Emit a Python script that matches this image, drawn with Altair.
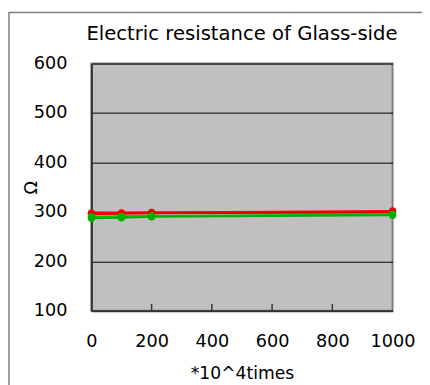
import altair as alt
import pandas as pd

# ---- data ----
cycles = [0, 100, 200, 1000]
red_1 = [298, 298, 299, 302]
red_2 = [295, 296, 297, 299]
green_1 = [290, 291, 292, 295]
green_2 = [287, 288, 290, 293]
series_names = ["R1", "R2", "G1", "G2"]
series_colors = ["#FF0000", "#E00000", "#00C000", "#00B000"]

x_ticks = [0, 200, 400, 600, 800, 1000]
inner_ticks = [200, 400, 600, 800]
y_ticks = [100, 200, 300, 400, 500, 600]
chart_title = "Electric resistance of Glass-side"

rows = []
for name, vals in zip(series_names, [red_1, red_2, green_1, green_2]):
    for c, v in zip(cycles, vals):
        rows.append({"cycles": c, "ohm": v, "series": name})
df = pd.DataFrame(rows)
tick_df = pd.DataFrame({"cycles": inner_ticks})

W, H = 307, 252
FONT = "DejaVu Sans"

x_axis = alt.Axis(
    values=x_ticks, title="*10^4times", grid=False, ticks=False, format="d",
    labelPadding=22, labelFontSize=18, labelFont=FONT, labelColor="#000",
    titleFontSize=17.5, titleFont=FONT, titleFontWeight="normal", titleColor="#000",
    titlePadding=15, domainColor="#333333", domainWidth=2, labelFlush=False,
)
x_scale = alt.Scale(domain=[0, 1000], nice=False)
y_enc = alt.Y(
    "ohm:Q",
    scale=alt.Scale(domain=[100, 600], nice=False),
    axis=alt.Axis(
        values=y_ticks, title="Ω", grid=True, gridColor="#000000", gridWidth=1,
        ticks=False, labelPadding=25, labelFontSize=18, labelFont=FONT, labelColor="#000",
        titleFontSize=18, titleFont=FONT, titleFontWeight="normal", titleColor="#000",
        titleX=-61, titleY=126, titleAlign="center", titleBaseline="middle",
        domainColor="#333333", domainWidth=2, labelFlush=False,
    ),
)
color_enc = alt.Color(
    "series:N",
    scale=alt.Scale(domain=series_names, range=series_colors),
    legend=None,
)

border = alt.Chart(alt.Data(values=[{"a": 1}])).mark_rect(
    fill="transparent", stroke="#808080", strokeWidth=1.5
).encode(
    x=alt.value(-84), x2=alt.value(430), y=alt.value(-52), y2=alt.value(400)
)

title_text = alt.Chart(alt.Data(values=[{"t": chart_title}])).mark_text(
    font=FONT, fontSize=20, color="#000", align="center", baseline="alphabetic"
).encode(
    text="t:N", x=alt.value(W / 2), y=alt.value(-24)
)

ticks = alt.Chart(tick_df).mark_rule(color="#333333", strokeWidth=1.5).encode(
    x=alt.X("cycles:Q", scale=x_scale, axis=x_axis), y=alt.value(H), y2=alt.value(H - 7)
)

lines = alt.Chart(df).mark_line(strokeWidth=2).encode(
    x=alt.X("cycles:Q", scale=x_scale, axis=x_axis), y=y_enc, color=color_enc, detail="series:N"
)
points = alt.Chart(df).mark_point(filled=True, size=55, opacity=1).encode(
    x=alt.X("cycles:Q", scale=x_scale, axis=x_axis), y="ohm:Q", color=color_enc
)

chart = alt.layer(border, title_text, ticks, lines, points).properties(
    width=W, height=H,
    autosize=alt.AutoSizeParams(type="none"),
    padding={"left": 85, "top": 53, "right": 30, "bottom": 72},
    background="white",
).configure_view(
    stroke="#808080", strokeWidth=2, fill="#C0C0C0"
)

chart.save("out.html", embed_options={"renderer": "svg", "actions": False})
